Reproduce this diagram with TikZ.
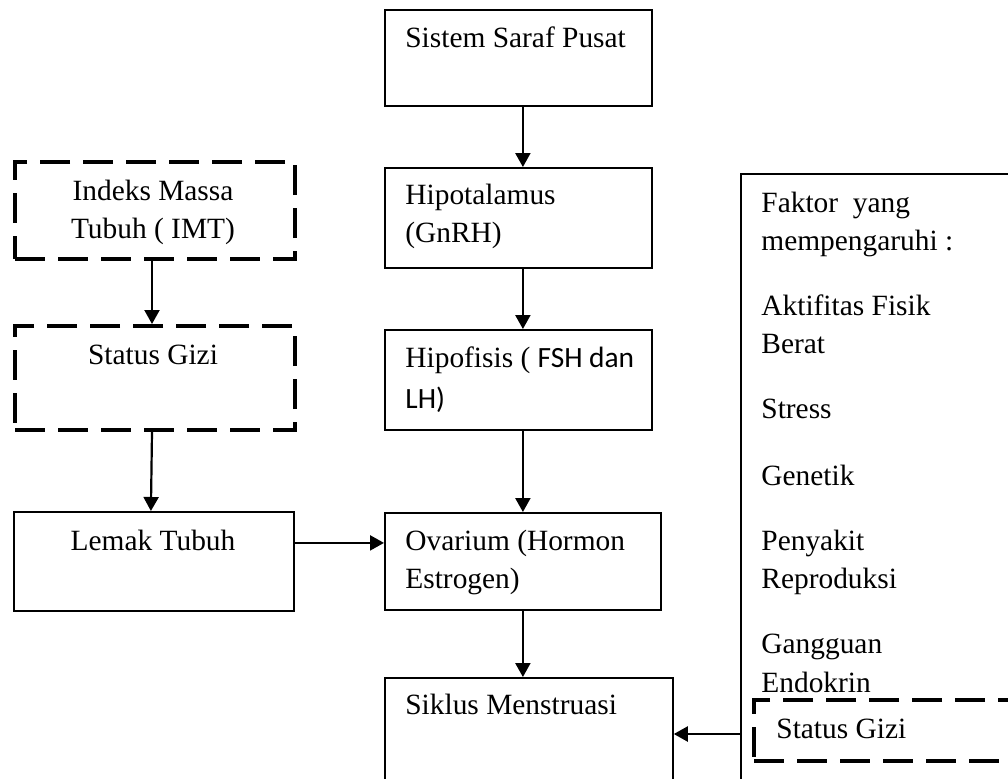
\documentclass[tikz,border=0pt]{standalone}
\usepackage{fontspec}
\setmainfont{Liberation Serif}
\newfontfamily\calib{Carlito}
\usetikzlibrary{arrows.meta}
\begin{document}
\begin{tikzpicture}[x=0.5pt,y=-0.5pt,
 solidbox/.style={draw, line width=0.9pt, inner sep=0pt, anchor=north west},
 dashbox/.style={draw, line width=2pt, dash pattern=on 15pt off 6.5pt, inner sep=0pt, anchor=north west},
 txt/.style={inner sep=0pt, font=\fontsize{14.7pt}{19pt}\selectfont, anchor=base west},
 ctxt/.style={txt, anchor=base},
 arr/.style={line width=1.1pt, -{Triangle[width=7.5pt,length=7pt]}}]
\useasboundingbox (0,0) rectangle (1008,778);
\fill[white] (0,0) rectangle (1008,778);
\begin{scope}
\clip (0,0) rectangle (1008,778);
% central column
\node[solidbox, minimum width=133.5pt, minimum height=48pt] (ssp) at (384,9) {};
\node[solidbox, minimum width=133.5pt, minimum height=50pt] (hipo) at (384,167) {};
\node[solidbox, minimum width=133.5pt, minimum height=50pt] (hipof) at (384,329) {};
\node[solidbox, minimum width=138pt, minimum height=48.5pt] (ova) at (384,512) {};
\node[solidbox, minimum width=144pt, minimum height=62pt] (sik) at (384,677) {};
% left column
\node[dashbox, minimum width=140pt, minimum height=48.5pt] (imt) at (13,160) {};
\node[dashbox, minimum width=140pt, minimum height=52pt] (sg) at (13,324) {};
\node[solidbox, minimum width=140pt, minimum height=49.5pt] (lemak) at (13,511) {};
% right column
\node[solidbox, minimum width=150pt, minimum height=325pt] (faktor) at (740,173) {};
\node[dashbox, minimum width=150pt, minimum height=30.5pt] (sg2) at (752,698) {};

% texts central
\node[txt] (t1) at (405,47) {Sistem Saraf Pusat};
\node[txt] (t2a) at (405,204) {Hipotalamus};
\node[txt] (t2b) at (405,242) {(GnRH)};
\node[txt] (t3a) at (405,367) {Hipofisis ( {\calib FSH dan}};
\node[txt] (t3b) at (405,408) {\calib LH)};
\node[txt] (t4a) at (405,550) {Ovarium (Hormon};
\node[txt] (t4b) at (405,588) {Estrogen)};
\node[txt] (t5) at (405,714) {Siklus Menstruasi};
% texts left
\node[ctxt] (l1a) at (153,200) {Indeks Massa};
\node[ctxt] (l1b) at (153,238) {Tubuh ( IMT)};
\node[ctxt] (l2) at (153,364) {Status Gizi};
\node[ctxt] (l3) at (153,550) {Lemak Tubuh};
% texts right
\node[txt] (r1) at (761,212) {Faktor\ \ yang};
\node[txt] (r2) at (761,250) {mempengaruhi :};
\node[txt] (r3) at (761,315) {Aktifitas Fisik};
\node[txt] (r4) at (761,353) {Berat};
\node[txt] (r5) at (761,418) {Stress};
\node[txt] (r6) at (761,485) {Genetik};
\node[txt] (r7) at (761,550) {Penyakit};
\node[txt] (r8) at (761,588) {Reproduksi};
\node[txt] (r9) at (761,653) {Gangguan};
\node[txt] (r10) at (761,692) {Endokrin};
\node[txt] (r11) at (776,738) {Status Gizi};

% arrows
\draw[arr] (ova.north |- ssp.south) -- (ova.north |- hipo.north);
\draw[arr] (ova.north |- hipo.south) -- (ova.north |- hipof.north);
\draw[arr] (ova.north |- hipof.south) -- (ova.north);
\draw[arr] (ova.south) -- (ova.south |- sik.north);
\draw[arr] ([xshift=-1.5pt]imt.south) -- ([xshift=-1.5pt]sg.north);
\draw[arr] ([xshift=-1.5pt]sg.south) -- ([xshift=-1.5pt]lemak.north);
\draw[arr] ([yshift=9.25pt]lemak.east) -- ([yshift=9.25pt]lemak.east -| ova.west);
\path (faktor.west |- sg2.center) ++(0,3.5) coordinate (fa);
\draw[arr] (fa) -- (fa -| sik.east);
\end{scope}
\end{tikzpicture}
\end{document}
